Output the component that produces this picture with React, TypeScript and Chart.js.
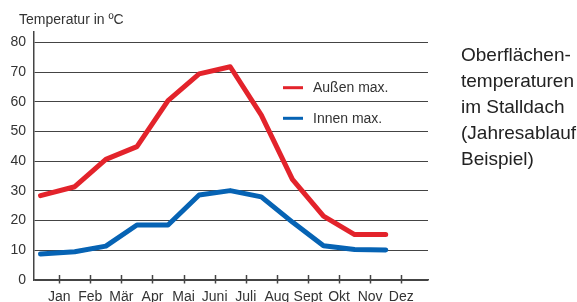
import React, { useEffect, useRef } from "react";
import { Chart, registerables } from "chart.js";

Chart.register(...registerables);

const months = ["Jan", "Feb", "Mär", "Apr", "Mai", "Juni", "Juli", "Aug", "Sept", "Okt", "Nov", "Dez"];
const monthTicks = [1, 2, 3, 4, 5, 6, 7, 8, 9, 10, 11, 12];
const pointMonths = [0.4, 1.5, 2.5, 3.5, 4.5, 5.5, 6.5, 7.5, 8.5, 9.5, 10.5, 11.5];
const aussenMax = [28.4, 31.4, 40.6, 44.9, 60.4, 69.4, 71.8, 55.5, 33.9, 21.5, 15.3, 15.3];
const innenMax = [8.75, 9.5, 11.4, 18.5, 18.5, 28.6, 30.1, 28.0, 19.5, 11.5, 10.3, 10.1];
const yTicks = [0, 10, 20, 30, 40, 50, 60, 70, 80];
const seriesLabels = ["Außen max.", "Innen max."];
const seriesColors = ["#e3232b", "#0663b4"];

const FONT = "'Liberation Sans', Arial, Helvetica, sans-serif";
const TEXT = "#333333";
const LINE = "#444444";

const legendPlugin = {
  id: "innerLegend",
  afterDatasetsDraw(chart: any) {
    const { ctx, chartArea } = chart;
    ctx.save();
    chart.data.datasets.forEach((ds: any, i: number) => {
      const y = chartArea.top + 55.7 + i * 30.6;
      const x0 = chartArea.left + 249;
      ctx.strokeStyle = ds.borderColor;
      ctx.lineWidth = 3;
      ctx.beginPath();
      ctx.moveTo(x0, y);
      ctx.lineTo(x0 + 20, y);
      ctx.stroke();
      ctx.fillStyle = TEXT;
      ctx.font = `14px ${FONT}`;
      ctx.textBaseline = "middle";
      ctx.textAlign = "left";
      ctx.fillText(ds.label, x0 + 30, y + 0.5);
    });
    ctx.restore();
  },
};

const tickMarksPlugin = {
  id: "crossTicks",
  afterDraw(chart: any) {
    const { ctx, chartArea } = chart;
    const xs = chart.scales.x;
    ctx.save();
    ctx.strokeStyle = LINE;
    ctx.lineWidth = 1.5;
    xs.ticks.forEach((t: any) => {
      const x = Math.round(xs.getPixelForValue(t.value)) + 0.5;
      ctx.beginPath();
      ctx.moveTo(x, chartArea.bottom - 5);
      ctx.lineTo(x, chartArea.bottom + 3.5);
      ctx.stroke();
    });
    ctx.restore();
  },
};

export default function App() {
  const ref = useRef<HTMLCanvasElement>(null);

  useEffect(() => {
    if (!ref.current) return;
    const series = [aussenMax, innenMax];
    const chart = new Chart(ref.current, {
      type: "line",
      data: {
        datasets: series.map((vals, i) => ({
          label: seriesLabels[i],
          data: vals.map((v, j) => ({ x: pointMonths[j], y: v })),
          borderColor: seriesColors[i],
          backgroundColor: seriesColors[i],
          borderWidth: 5,
          pointRadius: 0,
          tension: 0,
          borderJoinStyle: "round",
          borderCapStyle: "round",
          fill: false,
        })),
      },
      options: {
        animation: false,
        responsive: false,
        maintainAspectRatio: false,
        layout: { padding: { top: 32, right: 149, left: 0, bottom: 0 } },
        plugins: {
          legend: { display: false },
          tooltip: { enabled: false },
          title: { display: false },
        },
        scales: {
          x: {
            type: "linear",
            min: 0.19,
            max: 12.86,
            afterBuildTicks: (scale: any) => {
              scale.ticks = monthTicks.map((v) => ({ value: v }));
            },
            afterFit: (scale: any) => {
              scale.height = 22;
            },
            grid: { drawOnChartArea: false, drawTicks: false },
            border: { display: true, color: LINE, width: 1.5 },
            ticks: {
              autoSkip: false,
              maxRotation: 0,
              padding: 9,
              color: TEXT,
              font: { family: FONT, size: 14 },
              callback: (v: any) => months[Number(v) - 1] ?? "",
            },
          },
          y: {
            type: "linear",
            min: 0,
            max: 83.5,
            afterBuildTicks: (scale: any) => {
              scale.ticks = yTicks.map((v) => ({ value: v }));
            },
            afterFit: (scale: any) => {
              scale.width = 34;
            },
            grid: { color: LINE, lineWidth: 1, drawTicks: false },
            border: { display: true, color: LINE, width: 1.5 },
            ticks: {
              padding: 8,
              color: TEXT,
              font: { family: FONT, size: 14 },
            },
          },
        },
      },
      plugins: [legendPlugin, tickMarksPlugin],
    });
    return () => chart.destroy();
  }, []);

  return (
    <div style={{ position: "fixed", left: 0, top: 0, width: 577, height: 302, background: "#fff", overflow: "hidden" }}>
      <canvas ref={ref} width={577} height={302} style={{ position: "absolute", left: 0, top: 0 }} />
      <div
        style={{
          position: "absolute",
          left: 19,
          top: 11,
          font: `14px ${FONT}`,
          lineHeight: "16px",
          color: TEXT,
          whiteSpace: "nowrap",
        }}
      >
        Temperatur in ºC
      </div>
      <div
        style={{
          position: "absolute",
          left: 461,
          top: 42,
          font: `19px ${FONT}`,
          lineHeight: "26px",
          color: "#222",
          whiteSpace: "nowrap",
        }}
      >
        Oberflächen-
        <br />
        temperaturen
        <br />
        im Stalldach
        <br />
        (Jahresablauf
        <br />
        Beispiel)
      </div>
    </div>
  );
}
